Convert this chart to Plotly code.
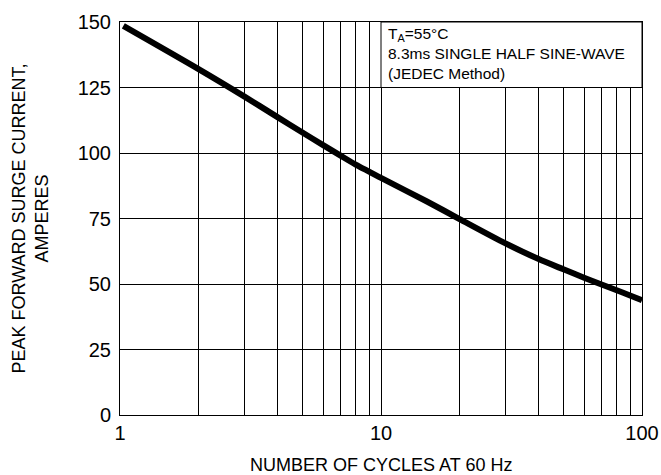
import plotly.graph_objects as go

# Curve data
cycles = [1.03, 2, 3, 4, 5, 6, 7, 8, 9, 10, 15, 20, 30, 40, 50, 60, 70, 80, 90, 100]
current = [148.5, 132.0, 121.5, 113.8, 107.8, 103.0, 99.0, 95.6, 92.9, 90.5, 81.5, 74.8, 65.5, 59.6, 55.6, 52.4, 49.8, 47.6, 45.6, 43.8]

x_tickvals = [1, 2, 3, 4, 5, 6, 7, 8, 9, 10, 20, 30, 40, 50, 60, 70, 80, 90, 100]
x_ticktext = ["1", "", "", "", "", "", "", "", "", "10", "", "", "", "", "", "", "", "", "100"]
y_tickvals = [0, 25, 50, 75, 100, 125, 150]

FONT = "Liberation Sans, Arial, sans-serif"

fig = go.Figure()
fig.add_trace(go.Scatter(
    x=cycles, y=current, mode="lines",
    line=dict(color="black", width=6, shape="spline", smoothing=0.8),
    hoverinfo="skip", showlegend=False,
))

# white legend box covering the grid (top-right)
fig.add_shape(type="rect", xref="x", yref="y", x0=10, x1=100, y0=125, y1=150,
              fillcolor="white", line=dict(color="black", width=1), layer="above")

fig.add_annotation(
    xref="x", yref="y", x=1.02, y=149.5, xanchor="left", yanchor="top",
    text="T<sub>A</sub>=55°C<br>8.3ms SINGLE HALF SINE-WAVE<br>(JEDEC Method)",
    showarrow=False, align="left",
    font=dict(family=FONT, size=15.5, color="black"),
)

# axis titles
fig.add_annotation(
    xref="paper", yref="paper", x=0, y=0.5, xshift=-90, xanchor="center", yanchor="middle",
    text="PEAK FORWARD SURGE CURRENT,<br>AMPERES", textangle=-90, showarrow=False,
    font=dict(family=FONT, size=18, color="black"),
)
fig.add_annotation(
    xref="paper", yref="paper", x=0.5, y=0, yshift=-50, xanchor="center", yanchor="middle",
    text="NUMBER OF CYCLES AT 60 Hz", showarrow=False,
    font=dict(family=FONT, size=18, color="black"),
)

fig.update_layout(
    width=661, height=475,
    margin=dict(l=120, r=19, t=22, b=60, autoexpand=False),
    paper_bgcolor="white", plot_bgcolor="white",
    font=dict(family=FONT, color="black"),
    xaxis=dict(
        type="log", range=[0, 2], automargin=False,
        tickmode="array", tickvals=x_tickvals, ticktext=x_ticktext,
        showgrid=True, gridcolor="black", gridwidth=1,
        showline=True, linecolor="black", linewidth=1, mirror=True,
        ticks="", tickfont=dict(size=20, family=FONT),
        zeroline=False,
    ),
    yaxis=dict(
        range=[0, 150], automargin=False,
        tickmode="array", tickvals=y_tickvals,
        showgrid=True, gridcolor="black", gridwidth=1,
        showline=True, linecolor="black", linewidth=1, mirror=True,
        ticks="", tickfont=dict(size=20, family=FONT), ticklabelstandoff=4,
        zeroline=False,
    ),
)

fig.write_html("out.html", config={"displayModeBar": False},
               post_script="document.body.style.margin='0';document.body.style.overflow='hidden';")
